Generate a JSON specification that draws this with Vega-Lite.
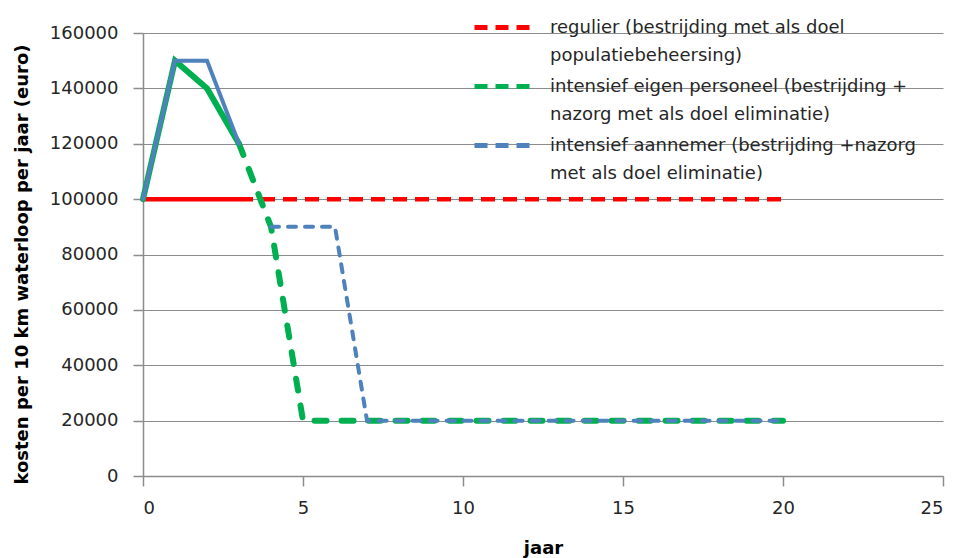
{
  "$schema": "https://vega.github.io/schema/vega-lite/v6.json",
  "width": 800,
  "height": 443,
  "autosize": "none",
  "padding": {"left": 143, "top": 33, "right": 20, "bottom": 82},
  "background": "white",
  "config": {
    "font": "DejaVu Sans",
    "view": {"stroke": null},
    "style": {"guide-label": {"lineHeight": 28}},
    "axis": {
      "labelFont": "DejaVu Sans",
      "labelFontSize": 18,
      "labelColor": "#262626",
      "titleFont": "DejaVu Sans",
      "titleFontSize": 18,
      "titleFontWeight": "bold",
      "titleColor": "#000000",
      "domainColor": "#8c8c8c",
      "tickColor": "#8c8c8c",
      "gridColor": "#8c8c8c",
      "gridWidth": 1,
      "domainWidth": 1.5,
      "tickWidth": 1.5,
      "tickSize": 10
    }
  },
  "data": {
    "values": [
      {"reeks": "regulier", "periode": "uitgevoerd", "jaar": 0, "kosten": 100000},
      {"reeks": "regulier", "periode": "uitgevoerd", "jaar": 1, "kosten": 100000},
      {"reeks": "regulier", "periode": "uitgevoerd", "jaar": 2, "kosten": 100000},
      {"reeks": "regulier", "periode": "uitgevoerd", "jaar": 3, "kosten": 100000},
      {"reeks": "regulier", "periode": "prognose", "jaar": 3, "kosten": 100000},
      {"reeks": "regulier", "periode": "prognose", "jaar": 4, "kosten": 100000},
      {"reeks": "regulier", "periode": "prognose", "jaar": 5, "kosten": 100000},
      {"reeks": "regulier", "periode": "prognose", "jaar": 6, "kosten": 100000},
      {"reeks": "regulier", "periode": "prognose", "jaar": 7, "kosten": 100000},
      {"reeks": "regulier", "periode": "prognose", "jaar": 8, "kosten": 100000},
      {"reeks": "regulier", "periode": "prognose", "jaar": 9, "kosten": 100000},
      {"reeks": "regulier", "periode": "prognose", "jaar": 10, "kosten": 100000},
      {"reeks": "regulier", "periode": "prognose", "jaar": 11, "kosten": 100000},
      {"reeks": "regulier", "periode": "prognose", "jaar": 12, "kosten": 100000},
      {"reeks": "regulier", "periode": "prognose", "jaar": 13, "kosten": 100000},
      {"reeks": "regulier", "periode": "prognose", "jaar": 14, "kosten": 100000},
      {"reeks": "regulier", "periode": "prognose", "jaar": 15, "kosten": 100000},
      {"reeks": "regulier", "periode": "prognose", "jaar": 16, "kosten": 100000},
      {"reeks": "regulier", "periode": "prognose", "jaar": 17, "kosten": 100000},
      {"reeks": "regulier", "periode": "prognose", "jaar": 18, "kosten": 100000},
      {"reeks": "regulier", "periode": "prognose", "jaar": 19, "kosten": 100000},
      {"reeks": "regulier", "periode": "prognose", "jaar": 20, "kosten": 100000},

      {"reeks": "eigen personeel", "periode": "uitgevoerd", "jaar": 0, "kosten": 100000},
      {"reeks": "eigen personeel", "periode": "uitgevoerd", "jaar": 1, "kosten": 150000},
      {"reeks": "eigen personeel", "periode": "uitgevoerd", "jaar": 2, "kosten": 140000},
      {"reeks": "eigen personeel", "periode": "uitgevoerd", "jaar": 3, "kosten": 120000},
      {"reeks": "eigen personeel", "periode": "prognose", "jaar": 3, "kosten": 120000},
      {"reeks": "eigen personeel", "periode": "prognose", "jaar": 4, "kosten": 90000},
      {"reeks": "eigen personeel", "periode": "prognose", "jaar": 5, "kosten": 20000},
      {"reeks": "eigen personeel", "periode": "prognose", "jaar": 6, "kosten": 20000},
      {"reeks": "eigen personeel", "periode": "prognose", "jaar": 7, "kosten": 20000},
      {"reeks": "eigen personeel", "periode": "prognose", "jaar": 8, "kosten": 20000},
      {"reeks": "eigen personeel", "periode": "prognose", "jaar": 9, "kosten": 20000},
      {"reeks": "eigen personeel", "periode": "prognose", "jaar": 10, "kosten": 20000},
      {"reeks": "eigen personeel", "periode": "prognose", "jaar": 11, "kosten": 20000},
      {"reeks": "eigen personeel", "periode": "prognose", "jaar": 12, "kosten": 20000},
      {"reeks": "eigen personeel", "periode": "prognose", "jaar": 13, "kosten": 20000},
      {"reeks": "eigen personeel", "periode": "prognose", "jaar": 14, "kosten": 20000},
      {"reeks": "eigen personeel", "periode": "prognose", "jaar": 15, "kosten": 20000},
      {"reeks": "eigen personeel", "periode": "prognose", "jaar": 16, "kosten": 20000},
      {"reeks": "eigen personeel", "periode": "prognose", "jaar": 17, "kosten": 20000},
      {"reeks": "eigen personeel", "periode": "prognose", "jaar": 18, "kosten": 20000},
      {"reeks": "eigen personeel", "periode": "prognose", "jaar": 19, "kosten": 20000},
      {"reeks": "eigen personeel", "periode": "prognose", "jaar": 20, "kosten": 20000},

      {"reeks": "aannemer", "periode": "uitgevoerd", "jaar": 0, "kosten": 100000},
      {"reeks": "aannemer", "periode": "uitgevoerd", "jaar": 1, "kosten": 150000},
      {"reeks": "aannemer", "periode": "uitgevoerd", "jaar": 2, "kosten": 150000},
      {"reeks": "aannemer", "periode": "uitgevoerd", "jaar": 3, "kosten": 120000},
      {"reeks": "aannemer", "periode": "prognose", "jaar": 4, "kosten": 90000},
      {"reeks": "aannemer", "periode": "prognose", "jaar": 5, "kosten": 90000},
      {"reeks": "aannemer", "periode": "prognose", "jaar": 6, "kosten": 90000},
      {"reeks": "aannemer", "periode": "prognose", "jaar": 7, "kosten": 20000},
      {"reeks": "aannemer", "periode": "prognose", "jaar": 8, "kosten": 20000},
      {"reeks": "aannemer", "periode": "prognose", "jaar": 9, "kosten": 20000},
      {"reeks": "aannemer", "periode": "prognose", "jaar": 10, "kosten": 20000},
      {"reeks": "aannemer", "periode": "prognose", "jaar": 11, "kosten": 20000},
      {"reeks": "aannemer", "periode": "prognose", "jaar": 12, "kosten": 20000},
      {"reeks": "aannemer", "periode": "prognose", "jaar": 13, "kosten": 20000},
      {"reeks": "aannemer", "periode": "prognose", "jaar": 14, "kosten": 20000},
      {"reeks": "aannemer", "periode": "prognose", "jaar": 15, "kosten": 20000},
      {"reeks": "aannemer", "periode": "prognose", "jaar": 16, "kosten": 20000},
      {"reeks": "aannemer", "periode": "prognose", "jaar": 17, "kosten": 20000},
      {"reeks": "aannemer", "periode": "prognose", "jaar": 18, "kosten": 20000},
      {"reeks": "aannemer", "periode": "prognose", "jaar": 19, "kosten": 20000},
      {"reeks": "aannemer", "periode": "prognose", "jaar": 20, "kosten": 20000}
    ]
  },
  "encoding": {
    "x": {
      "field": "jaar",
      "type": "quantitative",
      "scale": {"domain": [0, 25], "nice": false, "zero": false},
      "axis": {
        "title": "jaar",
        "values": [0, 5, 10, 15, 20, 25],
        "grid": false,
        "labelPadding": 13,
        "titleY": 72,
        "titleBaseline": "middle"
      }
    },
    "y": {
      "field": "kosten",
      "type": "quantitative",
      "scale": {"domain": [0, 160000], "nice": false},
      "axis": {
        "title": "kosten per 10 km waterloop per jaar (euro)",
        "values": [0, 20000, 40000, 60000, 80000, 100000, 120000, 140000, 160000],
        "format": "d",
        "grid": true,
        "labelPadding": 15,
        "titleX": -121,
        "titleY": 231,
        "titleBaseline": "middle",
        "titleAlign": "center",
        "titleAngle": -90
      }
    },
    "color": {
      "field": "reeks",
      "type": "nominal",
      "scale": {
        "domain": ["regulier", "eigen personeel", "aannemer"],
        "range": ["#ff0000", "#00b050", "#4f81bd"]
      },
      "legend": {
        "title": null,
        "orient": "none",
        "legendX": 344,
        "legendY": -23,
        "symbolType": "M-2,0L2,0",
        "symbolSize": 900,
        "symbolStrokeWidth": 5,
        "symbolDash": [13, 8],
        "symbolFillColor": "transparent",
        "labelFont": "DejaVu Sans",
        "labelFontSize": 18,
        "labelColor": "#262626",
        "labelLimit": 500,
        "labelBaseline": "middle",
        "labelOffset": 28,
        "rowPadding": 4,
        "labelExpr": "datum.value == 'regulier' ? ['regulier (bestrijding met als doel', 'populatiebeheersing)'] : datum.value == 'eigen personeel' ? ['intensief eigen personeel (bestrijding +', 'nazorg met als doel eliminatie)'] : ['intensief aannemer (bestrijding +nazorg', 'met als doel eliminatie)']"
      }
    }
  },
  "layer": [
    {
      "transform": [{"filter": "datum.reeks == 'regulier'"}],
      "mark": {"type": "line", "strokeWidth": 4.5, "strokeCap": "butt"},
      "encoding": {
        "strokeDash": {
          "field": "periode",
          "type": "nominal",
          "scale": {"domain": ["uitgevoerd", "prognose"], "range": [[1, 0], [14, 8]]},
          "legend": null
        }
      }
    },
    {
      "transform": [{"filter": "datum.reeks == 'eigen personeel'"}],
      "mark": {"type": "line", "strokeWidth": 6, "strokeCap": "round"},
      "encoding": {
        "strokeDash": {
          "field": "periode",
          "type": "nominal",
          "scale": {"domain": ["uitgevoerd", "prognose"], "range": [[1, 0], [12, 15]]},
          "legend": null
        }
      }
    },
    {
      "transform": [{"filter": "datum.reeks == 'aannemer'"}],
      "mark": {"type": "line", "strokeWidth": 4, "strokeCap": "round"},
      "encoding": {
        "strokeDash": {
          "field": "periode",
          "type": "nominal",
          "scale": {"domain": ["uitgevoerd", "prognose"], "range": [[1, 0], [8, 9]]},
          "legend": null
        }
      }
    }
  ],
  "resolve": {"scale": {"strokeDash": "independent"}}
}
